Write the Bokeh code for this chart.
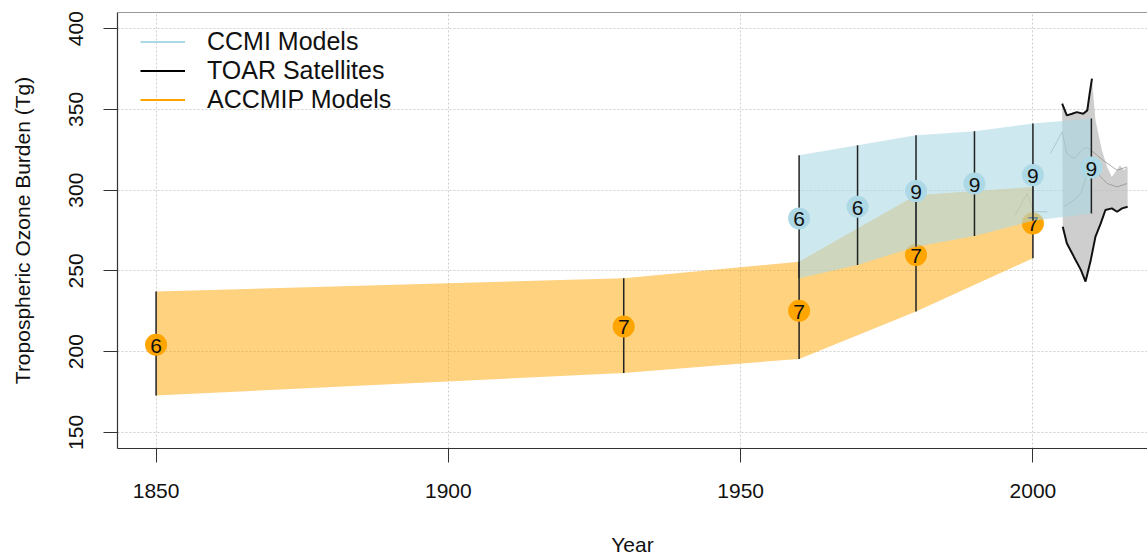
from bokeh.plotting import figure
from bokeh.models import FixedTicker, Span, Legend, LegendItem, Range1d
from bokeh.core.properties import value
from bokeh.embed import file_html
from bokeh.resources import INLINE

FONT = "Liberation Sans"
NAN = float("nan")

# ---------------- data ----------------
accmip_years = [1850, 1930, 1960, 1980, 2000]
accmip_mean = [204.3, 215.6, 225.3, 259.9, 279.4]
accmip_low = [172.8, 186.8, 195.5, 224.9, 257.8]
accmip_high = [237.2, 245.5, 255.7, 296.9, 302.0]
accmip_n = ["6", "7", "7", "7", "7"]

ccmi_years = [1960, 1970, 1980, 1990, 2000, 2010]
ccmi_mean = [282.5, 289.7, 299.4, 304.1, 309.3, 314.0]
ccmi_low = [245.5, 253.7, 265.0, 271.6, 281.0, 285.6]
ccmi_high = [321.6, 327.8, 334.0, 336.4, 341.3, 344.3]
ccmi_n = ["6", "6", "9", "9", "9", "9"]

toar_upper_years = [2005.0, 2005.8, 2006.7, 2007.5, 2008.6, 2009.3, 2009.7, 2010.1,
                    2010.7, 2011.8, 2012.7, 2013.5, 2014.9, 2015.5, 2016.2]
toar_upper_vals = [353.5, 346.3, 347.3, 348.3, 347.3, 349.4, 359.7, 369.0,
                   343.2, 324.7, 314.4, 308.2, 315.4, 312.3, 314.4]
toar_lower_years = [2005.1, 2005.8, 2007.0, 2008.2, 2009.0, 2009.9, 2010.7, 2011.6,
                    2012.4, 2013.5, 2014.4, 2015.25, 2016.2]
toar_lower_vals = [277.3, 267.1, 258.8, 250.6, 243.4, 256.8, 271.2, 279.4,
                   287.7, 288.7, 286.6, 288.7, 289.7]
toar_edge_years = [2016.2, 2016.2]
toar_edge_vals = [314.4, 289.7]

sat_a_years = [2003.0, 2005.0, 2005.8, 2007.0, 2008.7, 2009.3, 2010.3, 2012.0, 2014.4, 2016.1]
sat_a_vals = [322.7, 336.0, 322.7, 319.6, 325.7, 326.4, 323.6, 318.5, 312.3, 314.4]
sat_b_years = [2005.25, 2007.0, 2008.2, 2009.3, 2010.3, 2011.6, 2012.7, 2014.4, 2016.1]
sat_b_vals = [289.7, 293.8, 298.0, 310.3, 314.4, 308.2, 304.1, 302.0, 304.1]
sat_c_years = [1997.0, 1999.0, 2000.1, 2002.5]
sat_c_vals = [284.6, 298.0, 286.6, 286.6]

x_ticks = [1850, 1900, 1950, 2000]
y_ticks = [150, 200, 250, 300, 350, 400]

legend_labels = ["CCMI Models", "TOAR Satellites", "ACCMIP Models"]
legend_colors = ["#ADD8E6", "#000000", "#FFA500"]

# ---------------- figure ----------------
p = figure(width=1147, height=558, output_backend="svg", toolbar_location=None,
           x_range=Range1d(1843.4, 2019.6), y_range=Range1d(140, 410),
           min_border_left=117, min_border_top=12, min_border_bottom=108,
           min_border_right=0)
p.outline_line_color = None
p.background_fill_color = "white"
p.border_fill_color = "white"

for ax in (p.xaxis[0], p.yaxis[0]):
    ax.axis_line_color = "#333333"
    ax.axis_line_width = 1.2
    ax.major_tick_line_color = "#333333"
    ax.major_tick_out = 14
    ax.major_tick_in = 0
    ax.minor_tick_line_color = None
    ax.major_label_text_font = FONT
    ax.major_label_text_font_size = "21px"
    ax.major_label_text_color = "#111111"
    ax.axis_label_text_font = FONT
    ax.axis_label_text_font_size = "21px"
    ax.axis_label_text_font_style = "normal"
    ax.axis_label_text_color = "#111111"

p.xaxis.ticker = FixedTicker(ticks=x_ticks)
p.yaxis.ticker = FixedTicker(ticks=y_ticks)
p.xaxis.axis_label = "Year"
p.yaxis.axis_label = "Tropospheric Ozone Burden (Tg)"
p.yaxis.major_label_orientation = "vertical"
p.xaxis.major_label_standoff = 21
p.xaxis.axis_label_standoff = 32
p.yaxis.major_label_standoff = 20
p.yaxis.axis_label_standoff = 33

p.xgrid.ticker = FixedTicker(ticks=x_ticks)
p.ygrid.ticker = FixedTicker(ticks=y_ticks)
for g in (p.xgrid[0], p.ygrid[0]):
    g.grid_line_color = "#cfcfcf"
    g.grid_line_dash = "2 2"
    g.grid_line_width = 1

p.add_layout(Span(location=410, dimension="width", line_color="#333333", line_width=1.2))

# TOAR satellites
poly_x = toar_upper_years + toar_edge_years + toar_lower_years[::-1]
poly_y = toar_upper_vals + toar_edge_vals + toar_lower_vals[::-1]
p.patch(poly_x, poly_y, fill_color="#BEBEBE", fill_alpha=0.75, line_color=None)
for xs, ys in ((sat_a_years, sat_a_vals), (sat_b_years, sat_b_vals), (sat_c_years, sat_c_vals)):
    p.line(xs, ys, line_color="#8c8c8c", line_alpha=0.7, line_width=1)
p.line(toar_upper_years[:8], toar_upper_vals[:8], line_color="#111111", line_width=2)
p.line(toar_lower_years, toar_lower_vals, line_color="#111111", line_width=2)

# ACCMIP
p.varea(x=accmip_years, y1=accmip_low, y2=accmip_high, fill_color="#FFA500", fill_alpha=0.5)
p.segment(x0=accmip_years, y0=accmip_low, x1=accmip_years, y1=accmip_high,
          line_color="#222222", line_width=1.5)
p.scatter(accmip_years, accmip_mean, size=22, fill_color="#FFA500", line_color=None)
p.text(accmip_years, accmip_mean, text=accmip_n, text_align="center", text_baseline="middle",
       text_font=value(FONT), text_font_size="21px", text_color="#111111", y_offset=1)

# CCMI
p.varea(x=ccmi_years, y1=ccmi_low, y2=ccmi_high, fill_color="#ADD8E6", fill_alpha=0.6)
p.segment(x0=ccmi_years, y0=ccmi_low, x1=ccmi_years, y1=ccmi_high,
          line_color="#222222", line_width=1.5)
p.scatter(ccmi_years, ccmi_mean, size=22, fill_color="#ADD8E6", line_color=None)
p.text(ccmi_years, ccmi_mean, text=ccmi_n, text_align="center", text_baseline="middle",
       text_font=value(FONT), text_font_size="21px", text_color="#111111", y_offset=1)

# legend (line samples only, no data drawn)
items = []
for lab, col in zip(legend_labels, legend_colors):
    r = p.line([NAN, NAN], [NAN, NAN], line_color=col, line_width=2)
    items.append(LegendItem(label=lab, renderers=[r]))
leg = Legend(items=items, location=(23, 334), glyph_width=45, glyph_height=29,
             label_height=29, spacing=0, padding=0, margin=0, label_standoff=22,
             label_text_font=FONT, label_text_font_size="25px", label_text_color="#111111",
             border_line_color=None, background_fill_alpha=0)
p.add_layout(leg)

open("out.html", "w").write(file_html(p, INLINE))
